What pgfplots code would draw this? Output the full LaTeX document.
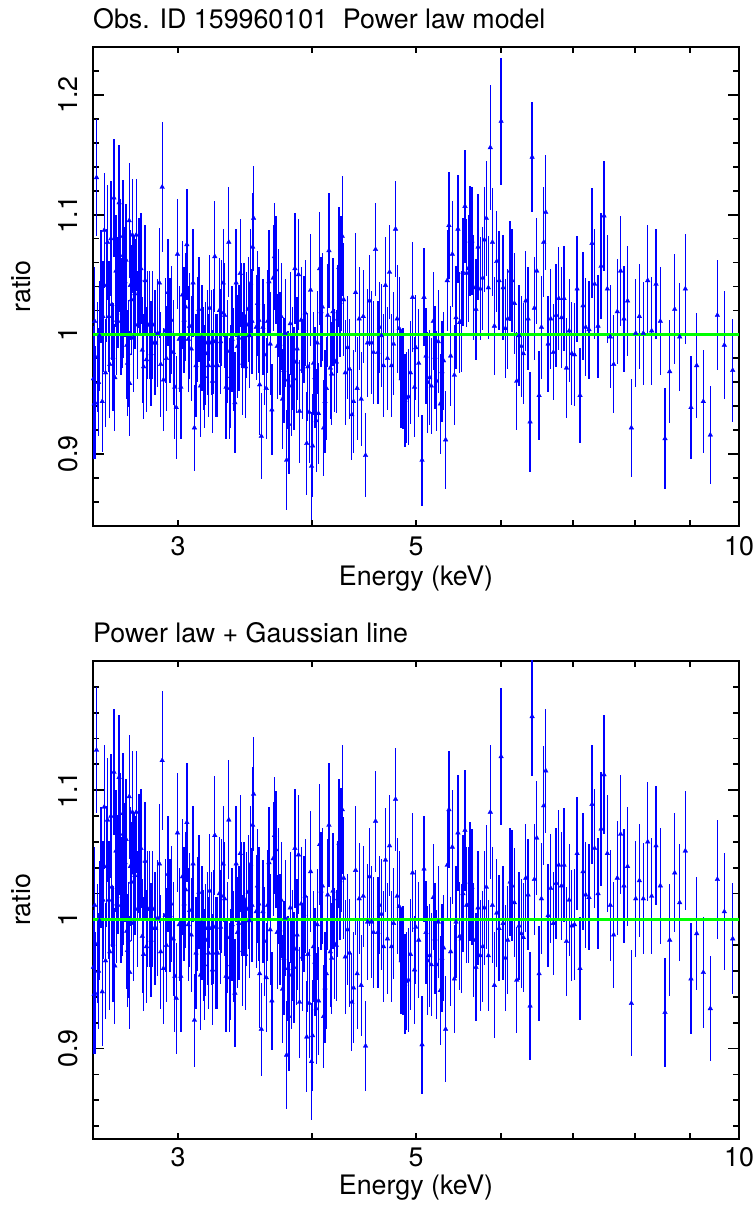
\documentclass[border=0pt]{standalone}
\usepackage{fontspec}
\setmainfont{TeX Gyre Heros}
\usepackage{pgfplots}
\usepackage{pgfplotstable}
\pgfplotsset{compat=1.18}

\pgfplotstableread{
E r1 e r2
2.502 0.963 0.044 0.963
2.506 0.942 0.046 0.942
2.509 1.011 0.045 1.011
2.511 0.943 0.047 0.943
2.519 1.131 0.049 1.131
2.524 0.981 0.046 0.981
2.530 0.960 0.045 0.960
2.535 0.999 0.046 0.999
2.544 1.040 0.047 1.040
2.550 0.944 0.042 0.944
2.554 1.015 0.046 1.015
2.561 1.087 0.048 1.087
2.568 0.968 0.045 0.968
2.574 1.041 0.047 1.041
2.579 1.077 0.048 1.077
2.587 1.015 0.046 1.015
2.592 0.975 0.045 0.975
2.598 1.080 0.048 1.080
2.603 1.025 0.046 1.025
2.609 0.981 0.045 0.981
2.615 1.114 0.049 1.114
2.620 0.964 0.045 0.964
2.626 1.053 0.047 1.053
2.631 1.012 0.046 1.012
2.637 1.035 0.046 1.035
2.644 1.110 0.048 1.110
2.649 1.066 0.047 1.066
2.655 1.011 0.045 1.011
2.661 1.018 0.046 1.018
2.666 1.082 0.047 1.082
2.670 1.026 0.046 1.026
2.678 1.044 0.046 1.044
2.684 1.062 0.047 1.062
2.688 0.991 0.045 0.991
2.692 0.976 0.044 0.976
2.698 0.984 0.045 0.984
2.702 1.095 0.048 1.095
2.705 0.959 0.044 0.959
2.709 1.041 0.046 1.041
2.715 1.029 0.046 1.029
2.721 1.083 0.047 1.083
2.725 0.997 0.045 0.997
2.729 1.036 0.046 1.036
2.735 1.034 0.046 1.034
2.743 1.083 0.047 1.083
2.751 1.008 0.045 1.008
2.759 1.051 0.046 1.051
2.765 1.046 0.046 1.046
2.771 1.055 0.046 1.055
2.779 0.987 0.044 0.987
2.787 0.973 0.044 0.973
2.796 1.045 0.046 1.045
2.804 0.979 0.044 0.979
2.812 1.008 0.045 1.008
2.822 1.008 0.045 1.008
2.832 0.984 0.044 0.984
2.842 1.008 0.045 1.008
2.852 0.993 0.044 0.993
2.860 0.993 0.044 0.993
2.872 1.001 0.045 1.001
2.883 1.043 0.046 1.043
2.891 0.975 0.044 0.975
2.900 1.123 0.054 1.123
2.908 0.962 0.043 0.962
2.919 1.003 0.044 1.003
2.927 0.980 0.044 0.980
2.936 1.035 0.045 1.035
2.949 1.003 0.044 1.003
2.957 1.012 0.045 1.012
2.970 0.985 0.044 0.985
2.980 0.956 0.043 0.956
2.989 0.939 0.043 0.939
2.997 1.067 0.046 1.067
3.008 0.996 0.044 0.996
3.019 0.956 0.043 0.956
3.029 1.033 0.045 1.033
3.040 1.012 0.044 1.012
3.050 1.023 0.045 1.023
3.058 1.075 0.046 1.075
3.067 0.996 0.044 0.996
3.076 1.007 0.044 1.007
3.087 0.988 0.044 0.988
3.099 1.043 0.045 1.043
3.108 0.922 0.036 0.922
3.119 0.974 0.043 0.974
3.128 1.004 0.044 1.004
3.138 1.021 0.044 1.021
3.149 0.957 0.043 0.957
3.158 0.997 0.044 0.997
3.167 0.980 0.043 0.980
3.176 0.965 0.043 0.965
3.185 0.984 0.043 0.984
3.195 0.993 0.044 0.993
3.204 0.974 0.043 0.974
3.211 1.022 0.044 1.022
3.222 0.993 0.044 0.993
3.231 0.961 0.043 0.961
3.240 0.994 0.044 0.994
3.247 1.065 0.046 1.065
3.256 0.974 0.043 0.974
3.266 0.974 0.043 0.974
3.279 1.020 0.044 1.020
3.288 0.994 0.044 0.994
3.294 1.018 0.044 1.018
3.306 1.043 0.045 1.043
3.316 1.016 0.044 1.016
3.326 0.956 0.043 0.956
3.336 0.986 0.043 0.986
3.346 1.077 0.046 1.077
3.353 0.955 0.042 0.955
3.360 0.965 0.043 0.965
3.370 0.996 0.044 0.996
3.380 0.979 0.043 0.979
3.390 0.943 0.042 0.943
3.399 1.043 0.045 1.043
3.409 0.990 0.043 0.990
3.419 0.997 0.044 0.997
3.429 1.051 0.045 1.051
3.439 1.016 0.044 1.016
3.448 0.976 0.043 0.976
3.458 1.016 0.044 1.016
3.468 0.973 0.043 0.973
3.478 1.008 0.044 1.008
3.488 1.021 0.044 1.021
3.497 0.999 0.044 0.999
3.507 1.043 0.045 1.043
3.517 1.011 0.044 1.011
3.522 1.073 0.045 1.073
3.529 1.097 0.044 1.097
3.549 1.006 0.044 1.006
3.559 1.026 0.044 1.026
3.569 1.012 0.044 1.012
3.575 0.958 0.042 0.958
3.588 0.915 0.036 0.915
3.600 1.006 0.040 1.006
3.613 0.983 0.042 0.983
3.626 0.955 0.042 0.955
3.637 1.011 0.043 1.011
3.647 1.044 0.043 1.044
3.657 0.992 0.043 0.992
3.670 0.937 0.038 0.937
3.680 1.047 0.044 1.047
3.691 1.065 0.045 1.065
3.702 1.054 0.045 1.054
3.712 0.990 0.044 0.990
3.723 1.026 0.045 1.026
3.734 0.992 0.043 0.992
3.744 1.015 0.045 1.015
3.755 0.946 0.042 0.946
3.766 0.970 0.044 0.970
3.777 1.001 0.045 1.001
3.788 0.895 0.042 0.895
3.799 0.962 0.041 0.962
3.807 0.925 0.042 0.925
3.818 1.009 0.043 1.009
3.829 0.957 0.042 0.957
3.837 0.980 0.043 0.980
3.848 0.963 0.043 0.963
3.856 1.055 0.046 1.055
3.867 0.977 0.043 0.977
3.875 0.988 0.043 0.988
3.886 1.050 0.046 1.050
3.895 0.936 0.043 0.936
3.909 1.012 0.044 1.012
3.920 0.971 0.042 0.971
3.931 1.004 0.045 1.004
3.942 1.018 0.044 1.018
3.956 0.909 0.043 0.909
3.965 0.973 0.045 0.973
3.976 0.935 0.042 0.935
3.988 1.037 0.047 1.037
3.996 0.890 0.045 0.890
4.005 0.907 0.043 0.910
4.013 0.976 0.043 0.979
4.025 0.964 0.042 0.967
4.036 0.928 0.043 0.931
4.045 0.993 0.043 0.996
4.056 0.934 0.042 0.937
4.066 1.055 0.047 1.058
4.078 1.019 0.046 1.022
4.090 1.023 0.045 1.026
4.101 0.922 0.040 0.925
4.113 0.944 0.043 0.947
4.125 0.955 0.043 0.958
4.137 1.016 0.043 1.019
4.148 1.070 0.048 1.073
4.160 0.972 0.043 0.975
4.172 0.967 0.043 0.970
4.184 1.019 0.045 1.022
4.199 0.978 0.043 0.981
4.214 0.977 0.043 0.980
4.226 1.013 0.045 1.016
4.238 1.056 0.050 1.059
4.247 1.027 0.046 1.030
4.256 1.051 0.048 1.054
4.268 1.082 0.050 1.085
4.281 1.029 0.047 1.032
4.296 0.968 0.044 0.971
4.317 0.989 0.043 0.992
4.336 0.971 0.042 0.974
4.357 0.933 0.038 0.936
4.373 0.944 0.043 0.947
4.392 1.035 0.050 1.038
4.407 0.955 0.043 0.958
4.426 1.013 0.043 1.016
4.445 0.946 0.039 0.949
4.465 1.015 0.039 1.018
4.487 0.899 0.035 0.902
4.506 0.993 0.045 0.998
4.525 1.028 0.038 1.033
4.545 0.993 0.043 0.998
4.564 0.985 0.043 0.990
4.584 1.071 0.039 1.076
4.607 0.985 0.043 0.990
4.623 1.006 0.038 1.011
4.643 0.999 0.043 1.004
4.663 0.974 0.043 0.979
4.683 1.041 0.040 1.046
4.703 0.980 0.043 0.985
4.724 1.052 0.039 1.057
4.744 0.974 0.043 0.979
4.765 0.992 0.043 0.997
4.785 1.088 0.040 1.093
4.802 1.013 0.045 1.018
4.823 1.005 0.043 1.010
4.843 0.963 0.041 0.968
4.864 0.963 0.042 0.968
4.882 0.945 0.039 0.950
4.899 0.947 0.038 0.952
4.920 0.948 0.040 0.953
4.941 0.968 0.043 0.973
4.963 1.031 0.046 1.036
4.984 0.956 0.042 0.961
4.998 0.989 0.044 0.994
5.029 0.976 0.045 0.984
5.065 0.895 0.038 0.903
5.087 1.031 0.041 1.039
5.108 0.982 0.040 0.990
5.127 0.960 0.042 0.968
5.149 0.964 0.040 0.972
5.167 0.957 0.040 0.965
5.189 1.011 0.041 1.017
5.208 0.981 0.043 0.985
5.226 0.961 0.042 0.965
5.245 0.994 0.043 0.998
5.268 0.942 0.042 0.945
5.286 0.969 0.042 0.970
5.305 0.978 0.041 0.978
5.328 0.912 0.041 0.915
5.347 1.045 0.042 1.042
5.366 1.091 0.045 1.085
5.386 0.982 0.042 0.975
5.405 1.067 0.044 1.056
5.429 0.966 0.042 0.954
5.448 1.014 0.043 0.998
5.471 1.088 0.045 1.067
5.491 1.010 0.042 0.987
5.511 1.011 0.042 0.985
5.530 1.052 0.045 1.020
5.554 1.107 0.047 1.069
5.574 1.051 0.045 1.011
5.594 1.055 0.045 1.011
5.614 1.078 0.046 1.029
5.638 1.078 0.045 1.025
5.659 1.039 0.044 0.984
5.687 1.021 0.042 0.963
5.712 1.073 0.044 1.009
5.740 1.038 0.043 0.972
5.769 1.047 0.043 0.979
5.790 1.079 0.044 1.009
5.815 1.097 0.048 1.025
5.840 1.039 0.043 0.972
5.865 1.156 0.052 1.083
5.891 1.077 0.045 1.011
5.916 1.007 0.041 0.949
5.946 1.061 0.042 1.005
5.976 1.045 0.041 0.993
6.002 1.178 0.053 1.126
6.028 1.039 0.044 0.997
6.058 1.005 0.041 0.970
6.088 1.013 0.042 0.984
6.119 1.053 0.042 1.029
6.145 1.045 0.043 1.026
6.176 1.026 0.042 1.013
6.207 0.961 0.041 0.953
6.238 0.999 0.042 0.995
6.269 0.990 0.042 0.989
6.296 0.984 0.042 0.986
6.328 1.028 0.042 1.032
6.360 1.013 0.043 1.019
6.387 0.927 0.042 0.933
6.415 1.148 0.046 1.157
6.447 1.022 0.043 1.031
6.479 1.053 0.044 1.063
6.512 0.949 0.037 0.958
6.545 1.006 0.043 1.016
6.577 1.077 0.046 1.088
6.606 1.102 0.048 1.115
6.639 0.992 0.040 1.003
6.677 1.013 0.042 1.024
6.715 0.985 0.040 0.997
6.754 1.016 0.043 1.028
6.793 1.030 0.043 1.042
6.832 1.014 0.042 1.026
6.871 1.030 0.044 1.042
6.906 0.972 0.042 0.983
6.946 1.003 0.043 1.015
6.986 0.984 0.043 0.995
7.026 0.983 0.043 0.996
7.066 1.038 0.044 1.051
7.110 0.949 0.040 0.962
7.156 1.024 0.045 1.037
7.197 1.006 0.041 1.019
7.249 1.004 0.041 1.017
7.295 1.076 0.046 1.089
7.337 1.042 0.046 1.055
7.390 1.007 0.043 1.020
7.438 1.057 0.044 1.070
7.486 1.099 0.046 1.112
7.539 1.038 0.045 1.051
7.588 0.998 0.043 1.011
7.643 0.975 0.041 0.988
7.703 1.019 0.044 1.032
7.758 1.053 0.046 1.066
7.814 1.013 0.044 1.026
7.875 1.028 0.046 1.041
7.938 0.922 0.041 0.935
8.012 1.001 0.045 1.016
8.075 1.015 0.044 1.030
8.144 1.001 0.043 1.016
8.221 1.045 0.046 1.060
8.291 1.003 0.045 1.018
8.369 1.042 0.046 1.057
8.447 1.011 0.045 1.026
8.532 0.913 0.042 0.928
8.618 0.969 0.043 0.984
8.711 1.021 0.046 1.036
8.805 0.998 0.045 1.013
8.912 1.038 0.046 1.053
9.021 0.939 0.043 0.954
9.132 0.974 0.044 0.989
9.263 0.944 0.043 0.959
9.403 0.916 0.041 0.931
9.546 1.016 0.046 1.031
9.690 0.991 0.045 1.006
9.865 0.970 0.043 0.985
}\ratiodata

\begin{document}
\fontsize{26.8bp}{32bp}\selectfont
\begin{tikzpicture}
\useasboundingbox (0,0) rectangle (755bp,1207bp);
\begin{axis}[
  at={(93bp,681bp)}, anchor=south west,
  width=646bp, height=479bp, scale only axis,
  xmode=log, xmin=2.5, xmax=10,
  ymin=0.84, ymax=1.24,
  xtick={3,5,10}, xticklabels={3,5,10},
  minor xtick={3,4,5,6,7,8,9},
  every major x tick/.style={draw=none},
  ytick={0.9,1,1.1,1.2}, yticklabels={0.9,1,1.1,1.2},
  minor ytick={0.86,0.88,0.92,0.94,0.96,0.98,1.02,1.04,1.06,1.08,1.12,1.14,1.16,1.18,1.22},
  major tick length=11bp, minor tick length=6bp,
  tick style={line width=1.8bp, black},
  axis line style={line width=2bp},
  xticklabel style={anchor=base, inner sep=0pt, yshift=-30bp},
  yticklabel style={xshift=-15bp, rotate=90, anchor=south, inner sep=0pt},
  xlabel={Energy (keV)},
  xlabel style={at={(axis description cs:0.5,-0.1232)}, anchor=base, inner sep=0pt},
  ylabel={ratio},
  ylabel style={at={(axis description cs:-0.096,0.5)}, anchor=south, inner sep=0pt},
  title={Obs. ID 159960101\ \ Power law model},
  title style={at={(axis description cs:0,1.0251)}, anchor=base west, inner sep=0pt},
]
\addplot[blue, only marks, mark=triangle*, mark size=2.7bp,
  mark options={fill=blue, draw=blue, line width=0.3bp},
  error bars/.cd, y dir=both, y explicit, error mark=none,
  error bar style={line width=1.3bp, color=blue}]
  table[x=E, y=r1, y error=e] {\ratiodata};
\addplot[color=green, line width=3bp, no marks] coordinates {(2.5,1) (10,1)};
\end{axis}
\begin{axis}[
  at={(93bp,68bp)}, anchor=south west,
  width=646bp, height=478bp, scale only axis,
  xmode=log, xmin=2.5, xmax=10,
  ymin=0.83, ymax=1.2,
  xtick={3,5,10}, xticklabels={3,5,10},
  minor xtick={3,4,5,6,7,8,9},
  every major x tick/.style={draw=none},
  ytick={0.9,1,1.1}, yticklabels={0.9,1,1.1},
  minor ytick={0.84,0.86,0.88,0.92,0.94,0.96,0.98,1.02,1.04,1.06,1.08,1.12,1.14,1.16,1.18},
  major tick length=11bp, minor tick length=6bp,
  tick style={line width=1.8bp, black},
  axis line style={line width=2bp},
  xticklabel style={anchor=base, inner sep=0pt, yshift=-28bp},
  yticklabel style={xshift=-15bp, rotate=90, anchor=south, inner sep=0pt},
  xlabel={Energy (keV)},
  xlabel style={at={(axis description cs:0.5,-0.1151)}, anchor=base, inner sep=0pt},
  ylabel={ratio},
  ylabel style={at={(axis description cs:-0.096,0.5)}, anchor=south, inner sep=0pt},
  title={Power law + Gaussian line},
  title style={at={(axis description cs:0,1.0272)}, anchor=base west, inner sep=0pt},
]
\addplot[blue, only marks, mark=triangle*, mark size=2.7bp,
  mark options={fill=blue, draw=blue, line width=0.3bp},
  error bars/.cd, y dir=both, y explicit, error mark=none,
  error bar style={line width=1.3bp, color=blue}]
  table[x=E, y=r2, y error=e] {\ratiodata};
\addplot[color=green, line width=3bp, no marks] coordinates {(2.5,1) (10,1)};
\end{axis}
\end{tikzpicture}
\end{document}
